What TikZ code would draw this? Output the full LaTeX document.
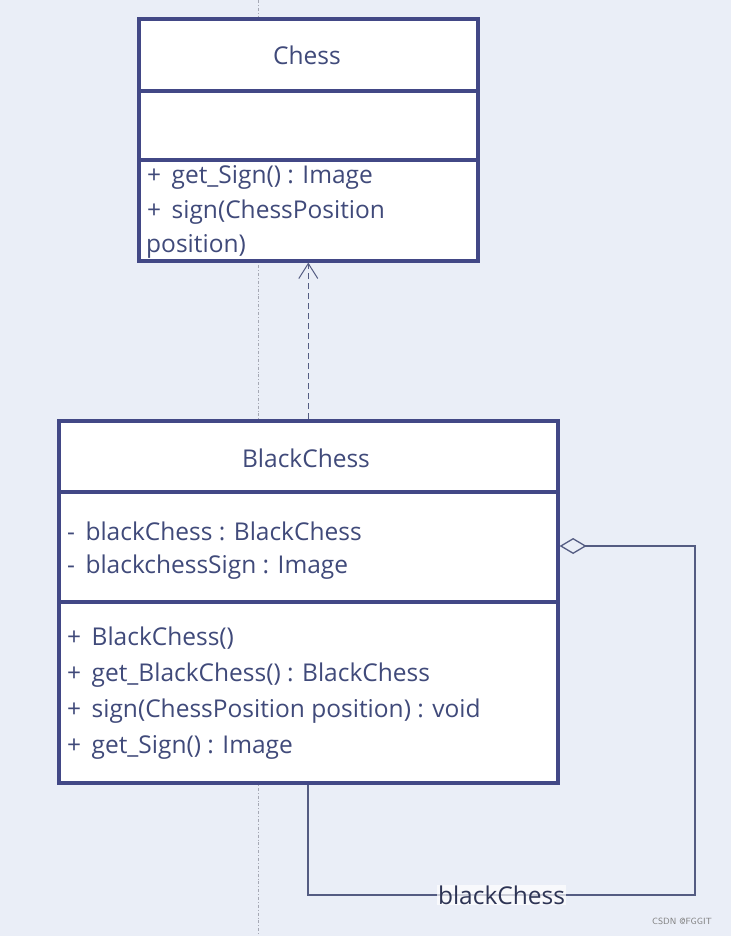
\documentclass[tikz,border=0pt]{standalone}
\usepackage{fontspec}
\setmainfont{Open Sans}
\usetikzlibrary{positioning, arrows.meta}

\definecolor{bgblue}{RGB}{234,238,247}
\definecolor{boxline}{RGB}{66,72,134}
\definecolor{txtblue}{RGB}{64,74,122}
\definecolor{linkline}{RGB}{84,92,130}
\definecolor{guide}{RGB}{165,168,180}

\tikzset{
  classbox/.style={draw=boxline, line width=3.6pt, fill=white, inner sep=0pt, anchor=north west},
  classname/.style={text=txtblue, inner sep=0pt, font=\fontsize{24.5}{28}\selectfont},
  member/.style={anchor=west, text=txtblue, inner sep=0pt, font=\fontsize{24.5}{28}\selectfont},
  divider/.style={draw=boxline, line width=3.6pt},
  link/.style={draw=linkline, line width=1.3pt}
}

\begin{document}
\begin{tikzpicture}[x=1pt, y=-1pt]
    % canvas
    \fill[bgblue] (0,0) rectangle (731,936);
    \useasboundingbox (0,0) rectangle (731,936);

    % guide line
    \draw[guide, line width=0.8pt, dash dot] (258,0) -- (258,936);

    % the Chess class
    \node[classbox, minimum width=339pt, minimum height=242pt] (chess) at (137,17) {};
    \draw[divider] (chess.west |- 0,91) -- (chess.east |- 0,91);
    \draw[divider] (chess.west |- 0,160) -- (chess.east |- 0,160);
    \node[classname] (chessname) at (307,55) {Chess};
    \node[member] (chessm1) at (147,177) {+\, get\_Sign() : Image};
    \node[member] (chessm2) at (147,212) {+\, sign(ChessPosition};
    \node[member] (chessm3) at (146,246) {position)};

    % the BlackChess class
    \node[classbox, minimum width=499pt, minimum height=362pt] (black) at (57,419) {};
    \draw[divider] (black.west |- 0,492) -- (black.east |- 0,492);
    \draw[divider] (black.west |- 0,602) -- (black.east |- 0,602);
    \node[classname] (blackname) at (306,458) {BlackChess};
    \node[member] (blacka1) at (67,531) {-\, blackChess : BlackChess};
    \node[member] (blacka2) at (67,567) {-\, blackchessSign : Image};
    \node[member] (blackm1) at (67,638) {+\, BlackChess()};
    \node[member] (blackm2) at (67,675) {+\, get\_BlackChess() : BlackChess};
    \node[member] (blackm3) at (67,711) {+\, sign(ChessPosition position) : void};
    \node[member] (blackm4) at (67,747) {+\, get\_Sign() : Image};

    % realization
    \draw[link, line width=1pt, dash pattern=on 6pt off 4pt,
          -{Straight Barb[length=15pt, width=19pt, line width=1pt]}]
        (black.north) -- (chess.south);

    % self aggregation
    \coordinate (aggtop) at (695,546);
    \coordinate (aggbot) at (695,895);
    \coordinate (aggleft) at (308,895);
    \draw[link, {Diamond[open, length=27pt, width=16pt, line width=1.3pt]}-]
        (black.east |- aggtop) -- (aggtop) -- (aggbot)
        -- node[fill=white, fill opacity=0.7, text opacity=1, text=txtblue!70!black,
                inner sep=1pt, font=\fontsize{24.5}{28}\selectfont] (agglabel) {blackChess}
        (aggleft) -- (aggleft |- black.south);

    % watermark
    \node[text=gray, font=\sffamily\fontsize{9}{10}\selectfont] (mark) at (682,921) {CSDN @FGGIT};
\end{tikzpicture}
\end{document}
